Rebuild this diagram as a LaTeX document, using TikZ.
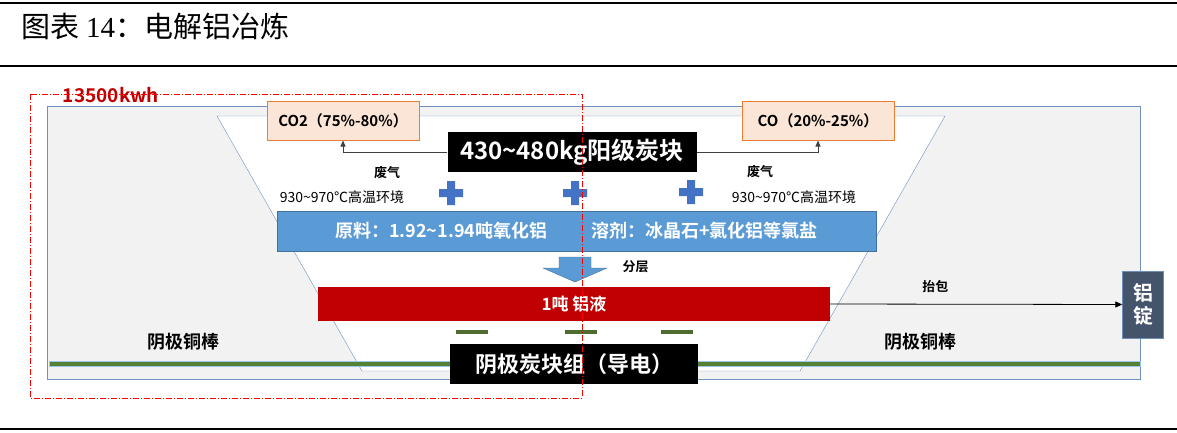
\documentclass[tikz,border=0pt]{standalone}
\usepackage{fontspec}
\setmainfont{Noto Sans CJK SC}[BoldFont={Noto Sans CJK SC Bold}]
\newfontfamily\numserif{Liberation Serif}
\usepackage{tikz}
\usetikzlibrary{arrows.meta}
\newcommand{\fsz}[1]{\fontsize{#1}{#1}\selectfont}
\newcommand{\wave}{\textasciitilde}
\definecolor{frame}{RGB}{110,145,190}
\definecolor{cellgray}{RGB}{242,242,242}
\definecolor{gasfill}{RGB}{251,229,214}
\definecolor{gasedge}{RGB}{237,125,49}
\definecolor{feedfill}{RGB}{91,155,213}
\definecolor{feededge}{RGB}{65,113,156}
\definecolor{alred}{RGB}{192,0,0}
\definecolor{ingot}{RGB}{68,84,106}
\definecolor{ingotedge}{RGB}{111,141,185}
\definecolor{plusblue}{RGB}{68,114,196}
\definecolor{rodgreen}{RGB}{84,130,53}
\definecolor{rodedge}{RGB}{157,195,230}
\definecolor{padgreen}{RGB}{78,107,48}

\begin{document}
\begin{tikzpicture}[x=1pt,y=-1pt,
  gasbox/.style={draw=gasedge,fill=gasfill,line width=1pt,minimum width=152pt,minimum height=38pt,font=\bfseries\fsz{15}},
  blackbox/.style={fill=black,text=white,inner sep=0pt,font=\bfseries\fsz{#1}},
  feedtxt/.style={text=white,inner sep=0pt,font=\bfseries\fsz{18}},
  lbl/.style={font=\bfseries\fsz{13}},
  heat/.style={font=\fsz{14}},
  rodlbl/.style={font=\bfseries\fsz{18}},
  gasline/.style={draw=black!75,line width=1pt,-{Triangle[length=6pt,width=5pt]}}]
\useasboundingbox (0,0) rectangle (1177,433);
\draw[line width=1.6pt] (0,3) -- (1177,3);
\draw[line width=1.2pt] (0,66) -- (1177,66) (0,429) -- (1177,429);
\node[anchor=west,font=\fsz{29}] (title) at (18,26) {图表 {\numserif 14}：电解铝冶炼};

% cell, bath and rods
\draw[frame,fill=cellgray] (47,106) rectangle (1140,379);
\draw[frame,fill=white] (217,116) -- (945,116) -- (800,371) -- (362,371) -- cycle;
\draw[fill=rodgreen,draw=rodedge,line width=0.5pt] (49,361.5) rectangle (1140,366.5);
\foreach \x in {472,581,677}
  \draw[padgreen,line width=4pt] (\x-16,332) -- (\x+16,332);

\node[gasbox] (co2) at (343,121) {CO2（75\%-80\%）};
\node[gasbox] (co) at (818,121) {CO（20\%-25\%）};
\node[blackbox=24,minimum width=249pt,minimum height=40pt] (anode) at (572,152) {430\wave480kg阳级炭块};
\draw[gasline] (anode.west) -| (co2.south);
\draw[gasline] (anode.east) -| (co.south);

\node[lbl] (wasteL) at (387,173) {废气};
\node[heat] (heatL) at (342,197) {930\wave970℃高温环境};
\node[lbl] (wasteR) at (760,172) {废气};
\node[heat] (heatR) at (794,197) {930\wave970℃高温环境};

\foreach \x/\y in {451/193,575/193,691/192}
  \fill[plusblue] (\x-12,\y-4) rectangle (\x+12,\y+4) (\x-4,\y-12) rectangle (\x+4,\y+12);

\node[draw=feededge,fill=feedfill,minimum width=599pt,minimum height=40pt] (feed) at (576.5,231) {};
\node[feedtxt,anchor=west] (alumina) at (335,231) {原料：1.92\wave1.94吨氧化铝};
\node[feedtxt,anchor=west] (flux) at (591,231) {溶剂：冰晶石+氯化铝等氯盐};

\draw[feededge,fill=feedfill] (559,257) -- (591,257) -- (591,268) -- (607,268) -- (575,282) -- (543,268) -- (559,268) -- cycle;
\node[lbl,anchor=west] (layer) at (619,267) {分层};

\node[fill=alred,text=white,font=\bfseries\fsz{17},minimum width=512pt,minimum height=34pt] (al) at (574,304) {1吨 铝液};
\node[fill=ingot,draw=ingotedge,text=white,font=\bfseries\fontsize{20}{23}\selectfont,minimum width=41pt,minimum height=67pt,align=center,inner sep=0pt] (ingot) at (1143,304.5) {铝\\锭};
\draw[line width=0.8pt,-{Triangle[length=7pt,width=6pt]}] (al.east) -- node[lbl,above=8pt,pos=0.36] (lift) {抬包} (ingot.west);

\node[rodlbl] (rodL) at (183,342) {阴极铜棒};
\node[rodlbl] (rodR) at (920,342) {阴极铜棒};
\node[blackbox=22,minimum width=248pt,minimum height=40pt] (cathode) at (574,364) {阴极炭块组（导电）};

\node[text=alred,font=\bfseries\fsz{19}] (energy) at (111,95) {13500kwh};
\draw[red,line width=0.8pt,dash pattern=on 6pt off 2pt on 1pt off 2pt] (30,94) rectangle (582,398);
\end{tikzpicture}
\end{document}
